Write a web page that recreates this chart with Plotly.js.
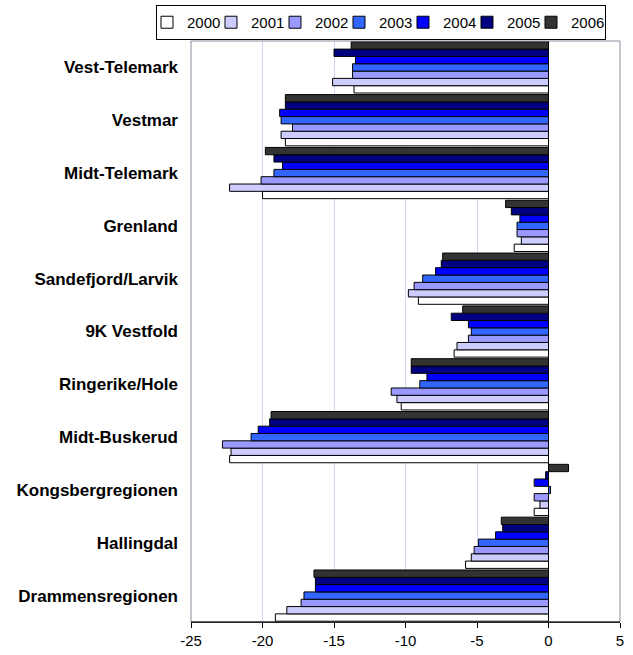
<!DOCTYPE html>
<html>
<head>
<meta charset="utf-8">
<script src="https://cdn.plot.ly/plotly-3.0.1.min.js"></script>
<style>html,body{margin:0;padding:0;background:#fff;}#chart{width:633px;height:655px;}</style>
</head>
<body>
<div id="chart"></div>
<script>
// Categories listed bottom-to-top (as drawn on the y axis)
var regions = ["Drammensregionen","Hallingdal","Kongsbergregionen","Midt-Buskerud","Ringerike/Hole","9K Vestfold","Sandefjord/Larvik","Grenland","Midt-Telemark","Vestmar","Vest-Telemark"];
var years = ["2000","2001","2002","2003","2004","2005","2006"];

// values per year, same order as regions
var v2000 = [-19.1, -5.8, -1.0, -22.3, -10.3, -6.6, -9.1, -2.4, -20.0, -18.4, -13.6];
var v2001 = [-18.3, -5.4, -0.6, -22.2, -10.6, -6.4, -9.8, -1.9, -22.3, -18.7, -15.1];
var v2002 = [-17.3, -5.2, -1.0, -22.8, -11.0, -5.6, -9.4, -2.2, -20.1, -17.9, -13.7];
var v2003 = [-17.1, -4.9, 0.14, -20.8, -9.0, -5.4, -8.8, -2.2, -19.2, -18.7, -13.7];
var v2004 = [-16.3, -3.7, -1.0, -20.3, -8.5, -5.6, -7.9, -2.0, -18.6, -18.8, -13.5];
var v2005 = [-16.3, -3.2, -0.2, -19.5, -9.6, -6.8, -7.5, -2.6, -19.2, -18.4, -15.0];
var v2006 = [-16.4, -3.3, 1.4, -19.4, -9.6, -6.0, -7.4, -3.0, -19.8, -18.4, -13.8];

var series = [v2000, v2001, v2002, v2003, v2004, v2005, v2006];
var colors = ["#ffffff","#ccccff","#9999ff","#3366ff","#0000ff","#000080","#333333"];

var traces = years.map(function(y, i){
  return {
    type: "bar",
    orientation: "h",
    name: y,
    y: regions,
    x: series[i],
    marker: {color: colors[i], line: {color: "#000000", width: 1}},
    hoverinfo: "x+y+name"
  };
});

var font = "'Liberation Sans', Arial, sans-serif";

var layout = {
  width: 633,
  height: 655,
  margin: {l: 191, r: 13, t: 41, b: 33, autoexpand: false},
  paper_bgcolor: "#ffffff",
  plot_bgcolor: "#ffffff",
  barmode: "group",
  bargap: 0.03,
  bargroupgap: 0,
  font: {family: font, size: 15, color: "#000000"},
  showlegend: true,
  legend: {
    orientation: "h",
    xref: "paper", yref: "paper",
    x: -0.0816, xanchor: "left",
    y: 1.062, yanchor: "top",
    bordercolor: "#000000", borderwidth: 1,
    bgcolor: "#ffffff",
    font: {family: font, size: 15, color: "#000000"},
    traceorder: "normal",
    indentation: -10,
    entrywidth: 29
  },
  xaxis: {
    range: [-25, 5],
    tickvals: [-25, -20, -15, -10, -5, 0, 5],
    ticktext: ["-25","-20","-15","-10","-5","0","5"],
    showgrid: true,
    gridcolor: "#d4d4f4",
    gridwidth: 1,
    zeroline: true,
    zerolinecolor: "#000000",
    zerolinewidth: 1,
    showline: true,
    linecolor: "#000000",
    linewidth: 1,
    ticks: "outside",
    ticklen: 5,
    tickcolor: "#000000",
    tickfont: {family: font, size: 15, color: "#000000"},
    fixedrange: true
  },
  yaxis: {
    type: "category",
    categoryorder: "array",
    categoryarray: regions,
    showgrid: false,
    showline: false,
    ticks: "",
    ticklabelstandoff: 12,
    tickfont: {family: font, size: 17, color: "#000000", weight: "bold"},
    fixedrange: true
  },
  shapes: [
    {type: "rect", xref: "paper", yref: "paper", x0: 0, x1: 1, y0: 0, y1: 1,
     line: {color: "#8c8c9c", width: 1}, fillcolor: "rgba(0,0,0,0)", layer: "above"},
    {type: "line", xref: "paper", yref: "paper", x0: 0, x1: 1, y0: 0, y1: 0,
     line: {color: "#000000", width: 1}, layer: "above"}
  ]
};

Plotly.newPlot("chart", traces, layout, {displayModeBar: false, staticPlot: true});
</script>
</body>
</html>
